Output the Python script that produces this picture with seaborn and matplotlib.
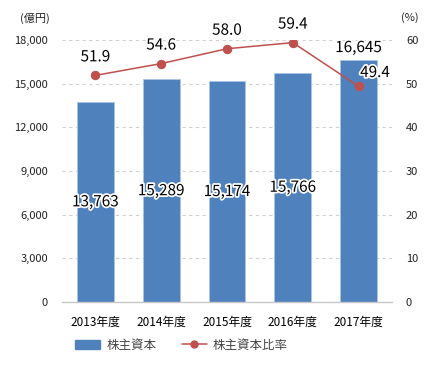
import matplotlib
matplotlib.use("Agg")
import matplotlib.pyplot as plt
import matplotlib.patheffects as pe
from matplotlib.lines import Line2D
from matplotlib.patches import Patch
import seaborn as sns
import pandas as pd

# Data
years = ["2013年度", "2014年度", "2015年度", "2016年度", "2017年度"]
equity = [13763, 15289, 15174, 15766, 16645]
equity_ratio = [51.9, 54.6, 58.0, 59.4, 49.4]
left_ticks = [0, 3000, 6000, 9000, 12000, 15000, 18000]
right_ticks = [0, 10, 20, 30, 40, 50, 60]

BAR_COLOR = "#4f81bd"
LINE_COLOR = "#c0504d"
TEXT_COLOR = "#222222"

sns.set_style("white")
plt.rcParams["font.family"] = ["Noto Sans CJK JP", "DejaVu Sans"]

df = pd.DataFrame({"year": years, "equity": equity, "ratio": equity_ratio})

fig = plt.figure(figsize=(4.3, 3.8), dpi=100)
ax = fig.add_axes([62 / 430, 1 - 302 / 380, 330 / 430, 262 / 380])

sns.barplot(data=df, x="year", y="equity", color=BAR_COLOR, saturation=1,
            width=0.56, ax=ax, edgecolor="#a9c4e6", linewidth=0.6, zorder=2)
ax.set_ylim(0, 18000)
ax.set_yticks(left_ticks)
ax.set_yticklabels([f"{t:,}" for t in left_ticks], fontsize=8, color=TEXT_COLOR)
ax.set_xlabel("")
ax.set_ylabel("")
ax.tick_params(axis="x", labelsize=8.5, colors="black", length=0, pad=10)
ax.tick_params(axis="y", length=0, pad=10)
ax.grid(axis="y", linestyle=(0, (3, 3)), color="#d0d0d0", linewidth=0.8, zorder=0)
ax.set_axisbelow(True)
for s in ["top", "right", "left"]:
    ax.spines[s].set_visible(False)
ax.spines["bottom"].set_color("#c8c8c8")
ax.spines["bottom"].set_linewidth(1.0)

halo = [pe.withStroke(linewidth=2.5, foreground="white")]
for i, v in enumerate(equity):
    if i == len(equity) - 1:
        ax.text(i, v + 250, f"{v:,}", ha="center", va="bottom", fontsize=11,
                color="black", path_effects=halo, zorder=5)
    else:
        ax.text(i, v / 2, f"{v:,}", ha="center", va="center", fontsize=11,
                color="black", path_effects=halo, zorder=5)

ax2 = ax.twinx()
sns.lineplot(x=list(range(len(years))), y=equity_ratio, ax=ax2, color=LINE_COLOR,
             marker="o", markersize=6, markeredgecolor=LINE_COLOR, linewidth=1.1, zorder=4)
ax2.set_ylim(0, 60)
ax2.set_yticks(right_ticks)
ax2.set_yticklabels([str(t) for t in right_ticks], fontsize=8, color=TEXT_COLOR)
ax2.tick_params(axis="y", length=0, pad=10)
for s in ax2.spines.values():
    s.set_visible(False)
ax2.grid(False)

for i, v in enumerate(equity_ratio):
    if i == len(equity_ratio) - 1:
        ax2.text(i + 0.25, v + 1.2, f"{v:.1f}", ha="center", va="bottom", fontsize=11,
                 color="black", path_effects=halo, zorder=6)
    else:
        ax2.text(i, v + 2.3, f"{v:.1f}", ha="center", va="bottom", fontsize=11,
                 color="black", path_effects=halo, zorder=6)

fig.text(35 / 430, 1 - 18 / 380, "(億円)", ha="center", va="center", fontsize=8, color=TEXT_COLOR)
fig.text(410 / 430, 1 - 18 / 380, "(%)", ha="center", va="center", fontsize=8, color=TEXT_COLOR)

handles = [Patch(facecolor=BAR_COLOR, edgecolor=BAR_COLOR),
           Line2D([0], [0], color=LINE_COLOR, marker="o", markersize=5, linewidth=1.1)]
fig.legend(handles, ["株主資本", "株主資本比率"], loc="center left",
           bbox_to_anchor=(64 / 430, 1 - 345 / 380), ncol=2, frameon=False,
           fontsize=9, handlelength=2.0, handleheight=0.7, columnspacing=2.0,
           handletextpad=0.5, labelcolor="#444444")

fig.savefig("out.png", dpi=100)
